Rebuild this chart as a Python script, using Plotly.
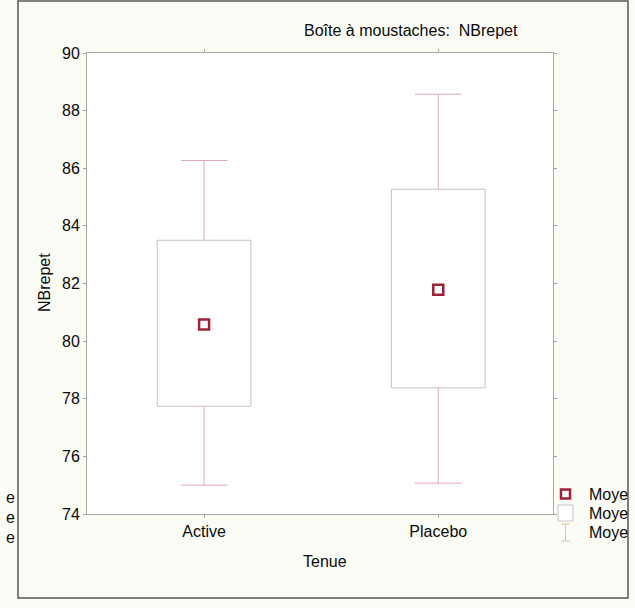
import plotly.graph_objects as go

# ---- data ----
categories = ["Active", "Placebo"]
means = [80.58, 81.78]
box_low = [77.74, 78.38]
box_high = [83.50, 85.27]
whisk_low = [75.00, 75.07]
whisk_high = [86.27, 88.57]
y_ticks = [74, 76, 78, 80, 82, 84, 86, 88, 90]
legend_labels = ["Moye", "Moye", "Moye"]

W, H = 635, 608
L, R, T, B = 87, 553, 53, 514  # plot area in px

FONT = "Liberation Sans, Arial, sans-serif"
FS = 16
TXT = "#0a0a0a"
BOX_COL = "#cdbfc3"
WH_COL = "#e3a9b2"
MEAN_COL = "#9e2238"
AX_COL = "#a8a8a8"

bw = 0.20   # box half width (category units)
cw = 0.10   # cap half width

fig = go.Figure()

for i, c in enumerate(categories):
    # whiskers
    fig.add_trace(go.Scatter(
        x=[i, i, None, i, i, None, i - cw, i + cw, None, i - cw, i + cw],
        y=[box_high[i], whisk_high[i], None, box_low[i], whisk_low[i], None,
           whisk_high[i], whisk_high[i], None, whisk_low[i], whisk_low[i]],
        mode="lines", line=dict(color=WH_COL, width=1), showlegend=False,
        hoverinfo="skip"))
    # box
    fig.add_trace(go.Scatter(
        x=[i - bw, i + bw, i + bw, i - bw, i - bw],
        y=[box_low[i], box_low[i], box_high[i], box_high[i], box_low[i]],
        mode="lines", fill="toself", fillcolor="white",
        line=dict(color=BOX_COL, width=1), showlegend=False, hoverinfo="skip"))

# means
fig.add_trace(go.Scatter(
    x=list(range(len(categories))), y=means, mode="markers",
    marker=dict(symbol="square", size=10, color="white",
                line=dict(color=MEAN_COL, width=2.5)),
    showlegend=False))

def px(xp):
    return (xp - L) / (R - L)

def py(yp):
    return (B - yp) / (B - T)

shapes = []
# outer page frame
shapes.append(dict(type="rect", xref="paper", yref="paper",
                   x0=px(18), x1=px(628), y0=py(598), y1=py(1),
                   line=dict(color="#555555", width=1.5), layer="below"))

annotations = []
annotations.append(dict(text="Boîte à moustaches:  NBrepet", xref="paper", yref="paper",
                        x=px(411), y=py(30), xanchor="center", yanchor="middle",
                        showarrow=False, font=dict(family=FONT, size=FS, color=TXT)))
annotations.append(dict(text="NBrepet", xref="paper", yref="paper",
                        x=px(44), y=py(283), xanchor="center", yanchor="middle",
                        textangle=-90, showarrow=False,
                        font=dict(family=FONT, size=FS, color=TXT)))
annotations.append(dict(text="Tenue", xref="paper", yref="paper",
                        x=px(325), y=py(561), xanchor="center", yanchor="middle",
                        showarrow=False, font=dict(family=FONT, size=FS, color=TXT)))

# legend (manual)
leg_y = [494, 513, 532]
for k, lab in enumerate(legend_labels):
    annotations.append(dict(text=lab, xref="paper", yref="paper",
                            x=px(587), y=py(leg_y[k]), xanchor="left", yanchor="middle",
                            showarrow=False, font=dict(family=FONT, size=FS, color=TXT)))
# legend icons
shapes.append(dict(type="rect", xref="paper", yref="paper",
                   x0=px(561), x1=px(570), y0=py(498.5), y1=py(489.5),
                   line=dict(color=MEAN_COL, width=2.5), fillcolor="white"))
shapes.append(dict(type="rect", xref="paper", yref="paper",
                   x0=px(558), x1=px(573), y0=py(521), y1=py(505),
                   line=dict(color="#c9c2c0", width=1), fillcolor="white"))
shapes.append(dict(type="line", xref="paper", yref="paper",
                   x0=px(565.5), x1=px(565.5), y0=py(541), y1=py(524),
                   line=dict(color="#d9c49a", width=1)))
shapes.append(dict(type="line", xref="paper", yref="paper",
                   x0=px(561), x1=px(570), y0=py(524), y1=py(524),
                   line=dict(color="#d9c49a", width=1)))
shapes.append(dict(type="line", xref="paper", yref="paper",
                   x0=px(561), x1=px(570), y0=py(541), y1=py(541),
                   line=dict(color="#d9c49a", width=1)))

# fragments of neighbouring text at left edge
for yy in [497, 517, 537]:
    annotations.append(dict(text="e", xref="paper", yref="paper",
                            x=px(17), y=py(yy), xanchor="right", yanchor="middle",
                            showarrow=False, font=dict(family=FONT, size=FS, color=TXT)))

fig.update_layout(
    width=W, height=H,
    margin=dict(l=L, r=W - R, t=T, b=H - B, pad=0),
    paper_bgcolor="#fcfcf6",
    plot_bgcolor="white",
    showlegend=False,
    shapes=shapes,
    annotations=annotations,
    xaxis=dict(range=[-0.5, 1.49], tickmode="array",
               tickvals=list(range(len(categories))), ticktext=categories,
               showgrid=False, zeroline=False, showline=True, linecolor=AX_COL,
               linewidth=1, mirror="ticks", ticks="outside", ticklen=3,
               tickcolor=AX_COL, tickfont=dict(family=FONT, size=FS, color=TXT)),
    yaxis=dict(range=[74, 90], tickmode="array", tickvals=y_ticks,
               ticktext=[str(v) for v in y_ticks],
               showgrid=False, zeroline=False, showline=True, linecolor=AX_COL,
               linewidth=1, mirror="ticks", ticks="outside", ticklen=3,
               tickcolor=AX_COL, tickfont=dict(family=FONT, size=FS, color=TXT)),
)

fig.write_html("out.html")
